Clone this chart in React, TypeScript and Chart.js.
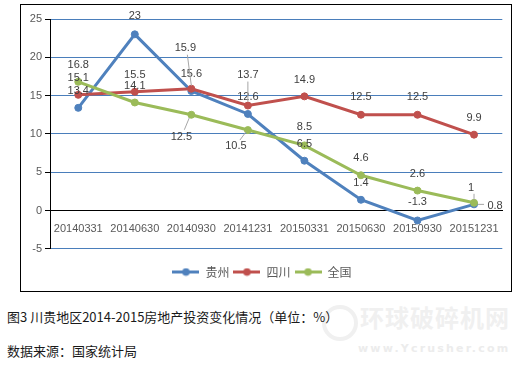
import React, { useEffect, useRef } from "react";
import { Chart, registerables } from "chart.js";

Chart.register(...registerables);

const categories = ["20140331", "20140630", "20140930", "20141231", "20150331", "20150630", "20150930", "20151231"];
const seriesNames = ["贵州", "四川", "全国"];
const guizhou = [13.4, 23, 15.6, 12.6, 6.5, 1.4, -1.3, 0.8];
const sichuan = [15.1, 15.5, 15.9, 13.7, 14.9, 12.5, 12.5, 9.9];
const national = [16.8, 14.1, 12.5, 10.5, 8.5, 4.6, 2.6, 1];
const yMin = -5;
const yMax = 25;
const yStep = 5;

const COLORS = ["#4f81bd", "#c0504d", "#9bbb59"];

// label offsets (dx, dy) relative to each point, per series
const LABEL_OFFSETS: number[][][] = [
  [[0, -17], [0, -18], [0, -17], [0, -17], [0, -17], [0, -17], [0, -18], [21, 2]],
  [[0, -17], [0, -17], [-6, -41], [0, -31], [0, -16], [0, -18], [0, -18], [0, -17]],
  [[0, -17], [0, -17], [-10, 22], [-12, 16], [0, -18], [0, -17], [0, -17], [-3, -15]],
];
// leader lines: [fromDx (label), fromDy (label), toDx (point), toDy (point)]
const LEADERS: (number[] | null)[][] = [
  [null, null, null, null, null, null, null, [-11, -2, 4, 0]],
  [null, null, [2, 7, 0, -3], [0, 7, 0, -4], null, null, null, null],
  [null, null, [3, -7, -2, 3], [4, -6, -2, 2], null, null, null, [3, 6, 0, -3]],
];

function legendIcon(color: string) {
  const c = document.createElement("canvas");
  c.width = 27;
  c.height = 9;
  const g = c.getContext("2d")!;
  g.strokeStyle = color;
  g.lineWidth = 3;
  g.beginPath();
  g.moveTo(0, 4.5);
  g.lineTo(27, 4.5);
  g.stroke();
  g.fillStyle = color;
  g.beginPath();
  g.arc(13.5, 4.5, 3.8, 0, Math.PI * 2);
  g.fill();
  return c;
}

const labelPlugin = {
  id: "dataLabels",
  afterDatasetsDraw(chart: any) {
    const ctx = chart.ctx;
    ctx.save();
    ctx.font = "11px 'Liberation Sans', Arial, sans-serif";
    ctx.textAlign = "center";
    ctx.textBaseline = "middle";
    chart.data.datasets.forEach((ds: any, di: number) => {
      const meta = chart.getDatasetMeta(di);
      meta.data.forEach((pt: any, i: number) => {
        const [dx, dy] = LABEL_OFFSETS[di][i];
        const x = pt.x + dx;
        const y = pt.y + dy;
        const lead = LEADERS[di][i];
        if (lead) {
          ctx.strokeStyle = "#a6a6a6";
          ctx.lineWidth = 1;
          ctx.beginPath();
          ctx.moveTo(x + lead[0], y + lead[1]);
          ctx.lineTo(pt.x + lead[2], pt.y + lead[3]);
          ctx.stroke();
        }
        ctx.fillStyle = "#404040";
        ctx.fillText(String(ds.data[i]), x, y);
      });
    });
    ctx.restore();
  },
};

export default function App() {
  const ref = useRef<HTMLCanvasElement>(null);

  useEffect(() => {
    if (!ref.current) return;
    const values = [guizhou, sichuan, national];
    const icons = COLORS.map(legendIcon);
    const chart = new Chart(ref.current, {
      type: "line",
      data: {
        labels: categories,
        datasets: values.map((d, i) => ({
          label: seriesNames[i],
          data: d,
          borderColor: COLORS[i],
          backgroundColor: COLORS[i],
          pointBackgroundColor: COLORS[i],
          pointBorderColor: COLORS[i],
          borderWidth: 3,
          pointRadius: 3.5,
          pointBorderWidth: 1,
          tension: 0,
          order: 3 - i,
        })),
      },
      options: {
        animation: false,
        responsive: false,
        layout: { padding: { left: 0, right: 8, top: 14, bottom: 3 } },
        plugins: {
          tooltip: { enabled: false },
          legend: {
            position: "bottom",
            title: { display: true, text: " ", font: { size: 1 }, padding: { top: 12, bottom: 0 } },
            labels: {
              usePointStyle: true,
              pointStyleWidth: 27,
              boxHeight: 9,
              padding: 4,
              color: "#595959",
              font: { size: 12, family: "'Noto Sans CJK SC', sans-serif" },
              generateLabels: (ch: any) => {
                const items = Chart.defaults.plugins.legend.labels.generateLabels(ch);
                items.sort((a: any, b: any) => a.datasetIndex - b.datasetIndex);
                return items.map((it: any) => ({ ...it, pointStyle: icons[it.datasetIndex] }));
              },
            },
          },
        },
        scales: {
          x: {
            type: "category",
            position: { y: 0 } as any,
            offset: true,
            grid: { display: false, drawTicks: false },
            border: { display: true, color: "#000000", width: 1 },
            ticks: {
              color: "#595959",
              font: { size: 11, family: "'Liberation Sans', Arial, sans-serif" },
              padding: 12,
              maxRotation: 0,
              autoSkip: false,
            },
          },
          y: {
            min: yMin,
            max: yMax,
            afterFit: (s: any) => {
              s.width = 29;
            },
            ticks: {
              stepSize: yStep,
              color: "#595959",
              font: { size: 11, family: "'Liberation Sans', Arial, sans-serif" },
              padding: 3,
            },
            grid: {
              color: (c: any) => (c.tick && c.tick.value === 0 ? "#000000" : "#4a7ebb"),
              tickColor: "#000000",
              tickLength: 5,
              lineWidth: 1,
            },
            border: { display: true, color: "#000000", width: 1 },
          },
        },
      },
      plugins: [labelPlugin],
    });
    return () => chart.destroy();
  }, []);

  return (
    <div
      style={{
        position: "absolute",
        left: 0,
        top: 0,
        width: 528,
        height: 365,
        background: "#ffffff",
        overflow: "hidden",
        fontFamily: "'Noto Sans CJK SC', sans-serif",
      }}
    >
      <div
        style={{
          position: "absolute",
          left: 20,
          top: 4,
          width: 492,
          height: 288,
          border: "1px solid #000",
          boxSizing: "border-box",
        }}
      >
        <canvas ref={ref} width={490} height={286} style={{ display: "block", width: 490, height: 286 }} />
      </div>
      <div
        style={{
          position: "absolute",
          left: 322,
          top: 305,
          width: 36,
          height: 36,
          borderRadius: "50%",
          border: "4px solid #f0f0f0",
          boxSizing: "border-box",
        }}
      />
      <div
        style={{
          position: "absolute",
          left: 360,
          top: 302,
          fontSize: 24,
          lineHeight: "30px",
          color: "#f0f0f0",
          fontWeight: 700,
          letterSpacing: 1,
          whiteSpace: "nowrap",
        }}
      >
        环球破碎机网
      </div>
      <div
        style={{
          position: "absolute",
          left: 358,
          top: 342,
          fontSize: 11,
          lineHeight: "14px",
          color: "#ececec",
          fontWeight: 700,
          letterSpacing: 2.2,
          fontFamily: "'DejaVu Sans', sans-serif",
          whiteSpace: "nowrap",
        }}
      >
        www.Ycrusher.com
      </div>
      <div
        style={{
          position: "absolute",
          left: 7,
          top: 309,
          fontSize: 13,
          lineHeight: "16px",
          color: "#1a1a1a",
          whiteSpace: "nowrap",
        }}
      >
        图3 川贵地区2014-2015房地产投资变化情况（单位：%）
      </div>
      <div
        style={{
          position: "absolute",
          left: 7,
          top: 343,
          fontSize: 13,
          lineHeight: "16px",
          color: "#1a1a1a",
          whiteSpace: "nowrap",
        }}
      >
        数据来源：国家统计局
      </div>
    </div>
  );
}
